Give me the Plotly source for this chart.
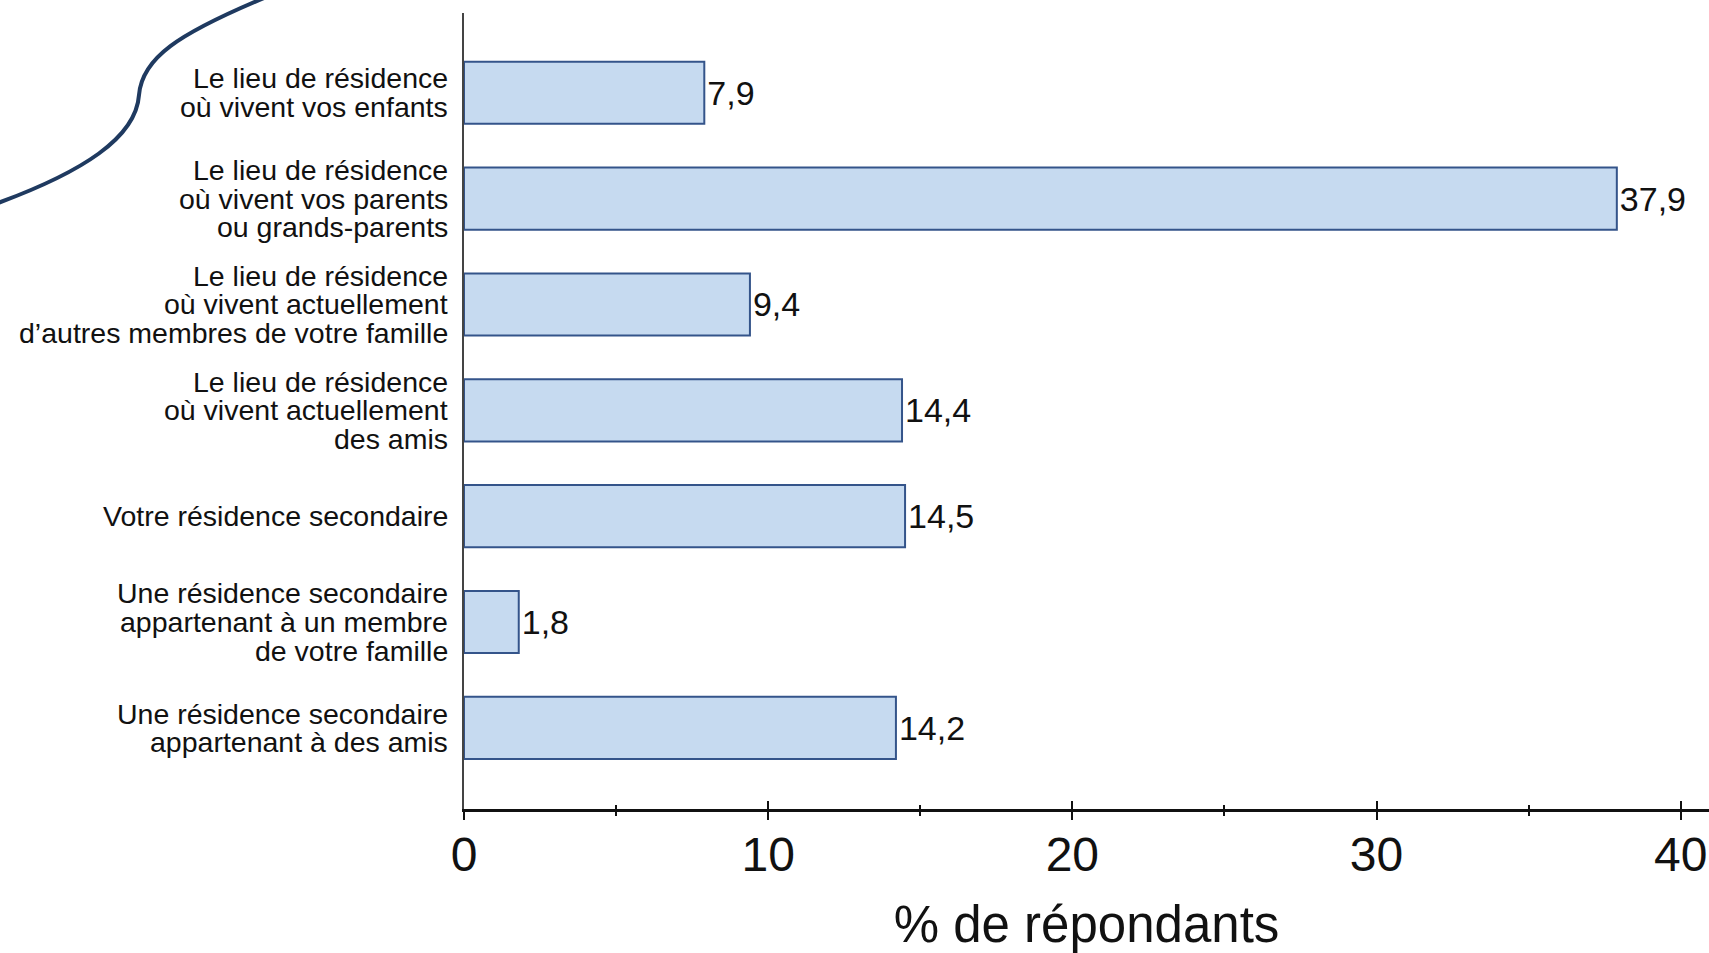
import plotly.graph_objects as go

categories = [
    "Le lieu de résidence<br>où vivent vos enfants",
    "Le lieu de résidence<br>où vivent vos parents<br>ou grands-parents",
    "Le lieu de résidence<br>où vivent actuellement<br>d’autres membres de votre famille",
    "Le lieu de résidence<br>où vivent actuellement<br>des amis",
    "Votre résidence secondaire",
    "Une résidence secondaire<br>appartenant à un membre<br>de votre famille",
    "Une résidence secondaire<br>appartenant à des amis",
]
values = [7.9, 37.9, 9.4, 14.4, 14.5, 1.8, 14.2]
tick_vals = [0, 10, 20, 30, 40]
tick_text = ["0", "10", "20", "30", "40"]
x_title = "% de répondants"

FONT = "Liberation Sans, Arial, sans-serif"
W, H = 1709, 953
ML, MR, MT, MB = 464, 0, 13, 144
XR = [0, 40.93]
YR = [6.766, -0.753]

ids = [str(i) for i in range(len(categories))]
labels = [f"{v:.1f}".replace(".", ",") for v in values]

fig = go.Figure()
fig.add_trace(go.Bar(
    x=values, y=ids, orientation="h",
    marker=dict(color="#c6daf0", line=dict(color="#34548a", width=2)),
    width=0.587,
    text=labels, textposition="outside", constraintext="none",
    cliponaxis=False,
    textfont=dict(family=FONT, size=34, color="#111111"),
    hoverinfo="skip", showlegend=False,
))
fig.add_trace(go.Scatter(x=[0], y=[ids[0]], xaxis="x2", mode="markers",
                         marker=dict(opacity=0), hoverinfo="skip", showlegend=False))

# category labels, one annotation per line for tight line spacing
LINE = 28.6
anns = []
for i, cat in enumerate(categories):
    lines = cat.split("<br>")
    n = len(lines)
    for j, ln in enumerate(lines):
        anns.append(dict(
            x=0, xref="paper", y=ids[i], yref="y",
            xanchor="right", yanchor="middle", xshift=-14,
            yshift=-(j - (n - 1) / 2) * LINE,
            text=ln, showarrow=False,
            font=dict(family=FONT, size=28.5, color="#111111"),
        ))

# decorative curve (pixel coords -> paper coords)
def px(x):
    return (x - ML) / (W - ML - MR)

def py(y):
    return (H - MB - y) / (H - MB - MT)

pts = [(264, -2), (178, 34), (142, 58), (139, 95), (136, 138), (82, 172), (-2, 203)]
p = [(px(a), py(b)) for a, b in pts]
path = (f"M {p[0][0]},{p[0][1]} C {p[1][0]},{p[1][1]} {p[2][0]},{p[2][1]} {p[3][0]},{p[3][1]} "
        f"C {p[4][0]},{p[4][1]} {p[5][0]},{p[5][1]} {p[6][0]},{p[6][1]}")

fig.update_layout(
    width=W, height=H,
    margin=dict(l=ML, r=MR, t=MT, b=MB),
    paper_bgcolor="white", plot_bgcolor="white",
    bargap=0.4,
    annotations=anns,
    shapes=[dict(type="path", path=path, xref="paper", yref="paper",
                 line=dict(color="#1f3a60", width=4))],
    xaxis=dict(
        range=XR, tickvals=tick_vals, ticktext=tick_text,
        ticks="outside", ticklen=8, tickwidth=2, tickcolor="#111111",
        minor=dict(ticks="outside", ticklen=4, tickwidth=2, dtick=5, tick0=0, tickcolor="#111111"),
        showline=True, linecolor="#111111", linewidth=3,
        showgrid=False, zeroline=False,
        ticklabelstandoff=-7,
        tickfont=dict(family=FONT, size=48, color="#111111"),
        title=dict(text=x_title, font=dict(family=FONT, size=51, color="#111111"), standoff=27),
    ),
    xaxis2=dict(
        range=XR, overlaying="x", anchor="y", side="bottom",
        tickvals=tick_vals, ticks="inside", ticklen=8, tickwidth=2, tickcolor="#111111",
        minor=dict(ticks="inside", ticklen=4, tickwidth=2, dtick=5, tick0=0, tickcolor="#111111"),
        showticklabels=False, showline=False, showgrid=False, zeroline=False,
    ),
    yaxis=dict(
        type="category", range=YR, showticklabels=False, ticks="",
        showline=True, linecolor="#444444", linewidth=2,
        showgrid=False, zeroline=False,
    ),
)

fig.write_html("out.html", config={"displayModeBar": False},
               post_script="document.body.style.margin='0';document.body.style.overflow='hidden';")
